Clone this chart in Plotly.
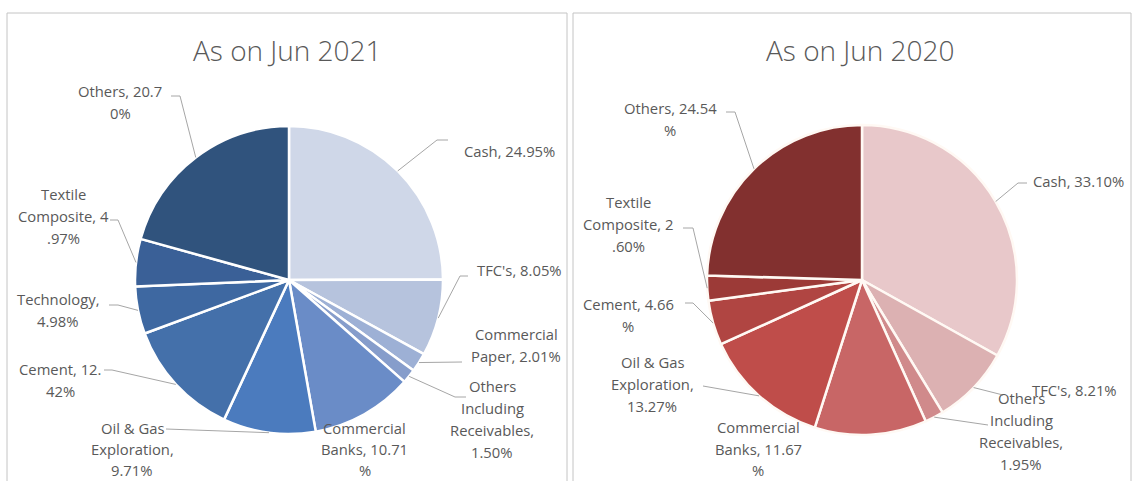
import math
import plotly.graph_objects as go

W, H = 1137, 481

# ---- data -------------------------------------------------------------
sectors_2021 = ["Cash", "TFC's", "Commercial Paper", "Others Including Receivables",
                "Commercial Banks", "Oil & Gas Exploration", "Cement", "Technology",
                "Textile Composite", "Others"]
share_2021 = [24.95, 8.05, 2.01, 1.50, 10.71, 9.71, 12.42, 4.98, 4.97, 20.70]

sectors_2020 = ["Cash", "TFC's", "Others Including Receivables", "Commercial Banks",
                "Oil & Gas Exploration", "Cement", "Textile Composite", "Others"]
share_2020 = [33.10, 8.21, 1.95, 11.67, 13.27, 4.66, 2.60, 24.54]

titles = ["As on Jun 2021", "As on Jun 2020"]

# ---- styling ----------------------------------------------------------
colors_2021 = ["#CFD7E8", "#B6C3DD", "#9DB0D5", "#869DCB", "#6A8CC7",
               "#4B7BBE", "#4470AA", "#3E68A1", "#3A6097", "#30537D"]
colors_2020 = ["#E8C8CA", "#DCB1B2", "#D08A8B", "#C86666",
               "#BF4D4A", "#B04542", "#9C3A37", "#82302F"]

TEXT = "#595959"
LEADER = "#A6A6A6"
FONT = "Open Sans"
LABEL_SIZE = 14.8

# pie geometry in pixels: centre x, centre y, radius
pie_geom = [(289, 280, 154), (862, 280, 155)]

# label layout: (line break positions, text x, first-line y, line gap, leader elbow, stub end)
layout_2021 = [
    ([],          509, 151, 22, (437, 140), (448, 140)),
    ([],          519, 270, 22, (460, 276), (468, 276)),
    ([10],        516, 334, 22, (462, 362), None),
    ([6, 16, 29], 492, 386, 22, (455, 397), (466, 397)),
    ([10, 23],    365, 428, 21, None, None),
    ([9, 22],     132, 428, 21, (166, 429), None),
    ([11],         60, 369, 22, (112, 370), (104, 370)),
    ([11],         58, 299, 22, (118, 305), (109, 305)),
    ([7, 20],      63, 194, 22, (118, 220), (110, 220)),
    ([12],        120,  91, 22, (180, 96), (171, 96)),
]
layout_2020 = [
    ([],         1078, 181, 22, (1018, 183), (1027, 183)),
    ([],         1074, 390, 22, (1003, 395), None),
    ([6, 16, 29], 1021, 398, 22, (988, 425), None),
    ([10, 23],    758, 427, 21.5, None, None),
    ([9, 22],     652, 362, 22, (703, 386), None),
    ([12],        628, 304, 22, (693, 303), (685, 303)),
    ([7, 20],     628, 202, 22, (693, 228), (683, 228)),
    ([13],        670, 108, 22, (735, 112), (726, 112)),
]


def px(x):
    return x / W


def py(y):
    return 1 - y / H


def wrap(text, cuts):
    parts, start = [], 0
    for c in cuts + [len(text)]:
        parts.append(text[start:c].strip())
        start = c
    return parts


fig = go.Figure()
annotations = []
shapes = []

# panel frames
for x0, x1 in [(7, 567), (573, 1131)]:
    shapes.append(dict(type="rect", xref="paper", yref="paper",
                       x0=px(x0), x1=px(x1), y0=py(13), y1=py(520),
                       line=dict(color="#C4C4C4", width=1), fillcolor="rgba(0,0,0,0)"))

datasets = [
    (sectors_2021, share_2021, colors_2021, layout_2021, "#FFFFFF"),
    (sectors_2020, share_2020, colors_2020, layout_2020, "#FFF9F4"),
]

for (names, vals, cols, lay, edge), (cx, cy, r), title in zip(datasets, pie_geom, titles):
    fig.add_trace(go.Pie(
        labels=names, values=vals, sort=False, direction="clockwise", rotation=0,
        marker=dict(colors=cols, line=dict(color=edge, width=2.5)),
        textinfo="none", hoverinfo="label+percent", showlegend=False,
        domain=dict(x=[px(cx - r), px(cx + r)], y=[py(cy + r), py(cy - r)]),
    ))

    annotations.append(dict(text=title, x=px(cx - 2), y=py(50), xref="paper", yref="paper",
                            showarrow=False, xanchor="center", yanchor="middle",
                            font=dict(family=FONT, size=28, color=TEXT, weight=300)))

    total = sum(vals)
    cum = 0.0
    for name, v, (cuts, tx, ty, gap, elbow, stub) in zip(names, vals, lay):
        mid = 2 * math.pi * (cum + v / 2) / total
        cum += v
        ex = cx + r * math.sin(mid)
        ey = cy - r * math.cos(mid)

        lines = wrap(f"{name}, {v:.2f}%", cuts)
        for i, line in enumerate(lines):
            annotations.append(dict(text=line, x=px(tx), y=py(ty + i * gap),
                                    xref="paper", yref="paper", showarrow=False,
                                    xanchor="center", yanchor="middle",
                                    font=dict(family=FONT, size=LABEL_SIZE, color=TEXT)))

        if elbow is not None:
            path = f"M {px(ex)} {py(ey)} L {px(elbow[0])} {py(elbow[1])}"
            if stub is not None:
                path += f" L {px(stub[0])} {py(stub[1])}"
            shapes.append(dict(type="path", xref="paper", yref="paper", path=path,
                               line=dict(color=LEADER, width=1)))

fig.update_layout(
    width=W, height=H,
    margin=dict(l=0, r=0, t=0, b=0),
    paper_bgcolor="white", plot_bgcolor="white",
    annotations=annotations, shapes=shapes,
)

fig.write_html("out.html")
